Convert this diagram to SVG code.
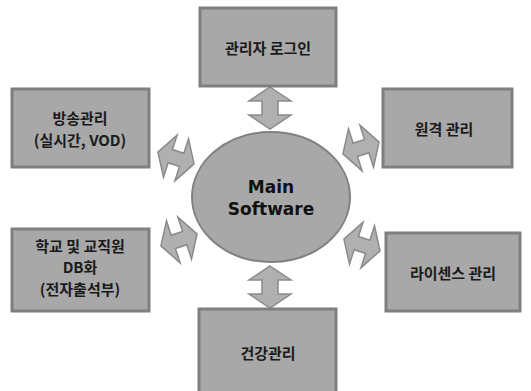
<svg xmlns="http://www.w3.org/2000/svg" width="531" height="391" viewBox="0 0 531 391">
<style>
.box{fill:#a8a8a8;stroke:#7f7f7f;stroke-width:3}
.ell{fill:#a8a8a8;stroke:#808080;stroke-width:2}
.arr{fill:#b0b0b0;stroke:#8a8a8a;stroke-width:1.5;stroke-linejoin:miter}
.t{font-family:"Noto Sans CJK KR","DejaVu Sans",sans-serif;font-size:15px;font-weight:bold;fill:#1a1a1a;text-anchor:middle;dominant-baseline:central}
.m{font-family:"DejaVu Sans",sans-serif;font-weight:bold;font-size:17px;fill:#111;text-anchor:middle;dominant-baseline:central}
</style>
<defs>
<path id="ha" d="M-19,0 L-6,-22 L-6,-7 L6,-7 L6,-22 L19,0 L6,22 L6,7 L-6,7 L-6,22 Z"/>
<path id="va" d="M0,-21 L21,-7 L8,-7 L8,7 L21,7 L0,21 L-21,7 L-8,7 L-8,-7 L-21,-7 Z"/>
</defs>
<rect width="531" height="391" fill="#fff"/>
<g id="connectors">
<use href="#va" class="arr" transform="translate(270,108)"/>
<use href="#va" class="arr" transform="translate(270,287)"/>
<use href="#ha" class="arr" transform="translate(176,158) rotate(18)"/>
<use href="#ha" class="arr" transform="translate(361,148) rotate(-18)"/>
<use href="#ha" class="arr" transform="translate(179,240) rotate(-18)"/>
<use href="#ha" class="arr" transform="translate(362,245) rotate(18)"/>
</g>
<g id="main">
<ellipse class="ell" cx="271" cy="197" rx="79" ry="65"/>
<text class="m" x="271" y="187">Main</text>
<text class="m" x="271" y="209">Software</text>
</g>
<g id="login">
<rect class="box" x="200" y="8" width="136" height="78"/>
<text class="t" x="268" y="47">관리자 로그인</text>
</g>
<g id="broadcast">
<rect class="box" x="12" y="89" width="137" height="78"/>
<text class="t" x="80" y="117">방송관리</text>
<text class="t" x="80" y="139">(실시간, VOD)</text>
</g>
<g id="remote">
<rect class="box" x="383" y="89" width="129" height="78"/>
<text class="t" x="444" y="128">원격 관리</text>
</g>
<g id="school">
<rect class="box" x="12" y="229" width="137" height="82"/>
<text class="t" x="80" y="245">학교 및 교직원</text>
<text class="t" x="80" y="266">DB화</text>
<text class="t" x="80" y="288">(전자출석부)</text>
</g>
<g id="license">
<rect class="box" x="386" y="233" width="134" height="78"/>
<text class="t" x="453" y="272">라이센스 관리</text>
</g>
<g id="health">
<rect class="box" x="199" y="309" width="137" height="84"/>
<text class="t" x="268" y="352">건강관리</text>
</g>
</svg>
